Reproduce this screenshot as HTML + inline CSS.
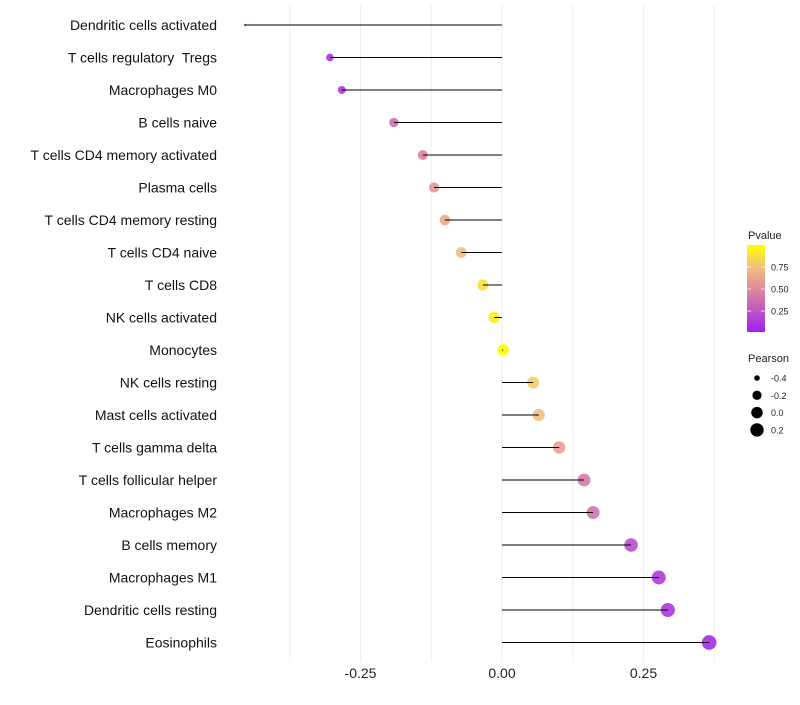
<!DOCTYPE html>
<html><head><meta charset="utf-8"><style>
body{margin:0;background:#fff;font-family:"Liberation Sans",Arial,sans-serif;}
text{white-space:pre;}
</style></head><body>
<svg id="chart" width="800" height="700" xmlns="http://www.w3.org/2000/svg"></svg>
<script>
const categories=["Dendritic cells activated","T cells regulatory  Tregs","Macrophages M0","B cells naive","T cells CD4 memory activated","Plasma cells","T cells CD4 memory resting","T cells CD4 naive","T cells CD8","NK cells activated","Monocytes","NK cells resting","Mast cells activated","T cells gamma delta","T cells follicular helper","Macrophages M2","B cells memory","Macrophages M1","Dendritic cells resting","Eosinophils"];
const pearson=[-0.454,-0.304,-0.283,-0.191,-0.140,-0.120,-0.101,-0.072,-0.034,-0.014,0.002,0.055,0.065,0.101,0.145,0.161,0.228,0.277,0.293,0.366];
const pvalues=[0.02,0.1,0.12,0.35,0.45,0.55,0.65,0.75,0.88,0.93,0.99,0.8,0.75,0.6,0.42,0.4,0.2,0.12,0.1,0.05];
const xTicks=[-0.25,0,0.25];
const xTickLabels=["-0.25","0.00","0.25"];
const gridVals=[-0.375,-0.25,-0.125,0,0.125,0.25,0.375];
const legendP=[0.25,0.5,0.75];
const legendPLabels=["0.25","0.50","0.75"];
const legendS=[-0.4,-0.2,0,0.2];
const legendSLabels=["-0.4","-0.2","0.0","0.2"];

const NS="http://www.w3.org/2000/svg";
const svg=document.getElementById('chart');
const x=v=>502+v*566;
const y=i=>25+i*32.5;
const vmin=Math.min(...pearson),vmax=Math.max(...pearson);
const rad=v=>{const t=Math.max(0,(v-vmin)/(vmax-vmin));return (1+5*Math.sqrt(t))*1.22;};
function lerp(a,b,t){return a.map((c,i)=>Math.round(c+(b[i]-c)*t));}
const stops=[[0,[160,32,240]],[0.5,[224,140,152]],[0.75,[240,192,128]],[1,[255,255,0]]];
function col(p){for(let i=0;i<stops.length-1;i++){if(p<=stops[i+1][0]){const t=(p-stops[i][0])/(stops[i+1][0]-stops[i][0]);return 'rgb('+lerp(stops[i][1],stops[i+1][1],t).join(',')+')';}}return 'rgb(255,255,0)';}
function mk(tag,attrs,parent){const e=document.createElementNS(NS,tag);for(const k in attrs)e.setAttribute(k,attrs[k]);(parent||svg).appendChild(e);return e;}

gridVals.forEach(v=>{
  const g=mk('line',{x1:x(v),x2:x(v),y1:5,y2:662,stroke:'#efefef','stroke-width':1});
  
  
});
xTicks.forEach((v,i)=>{
  const t=mk('text',{x:x(v),y:678,'text-anchor':'middle','font-size':14,fill:'#222'});
  t.textContent=xTickLabels[i];
  
  
});
categories.forEach((c,i)=>{
  const t=mk('text',{x:217,y:y(i)+5,'text-anchor':'end','font-size':14,fill:'#111'});
  t.textContent=c;
  
  
  const d=mk('circle',{cx:x(pearson[i]),cy:y(i),r:rad(pearson[i]),fill:col(pvalues[i]),'fill-opacity':0.9});
  
  
  const l=mk('line',{x1:x(0),x2:x(pearson[i]),y1:y(i),y2:y(i),stroke:'#000','stroke-width':1});
  
  
});
const lt=mk('text',{x:748,y:239,'font-size':11,fill:'#222'});lt.textContent='Pvalue';


const defs=mk('defs',{});
const grad=mk('linearGradient',{id:'pg',x1:0,y1:1,x2:0,y2:0},defs);
for(let k=0;k<=10;k++){mk('stop',{offset:k/10,'stop-color':col(k/10)},grad);}
const bar=mk('rect',{x:747,y:245,width:18,height:87,fill:'url(#pg)'});


const py=p=>333-p*88;
legendP.forEach((p,i)=>{
  mk('line',{x1:747,x2:751,y1:py(p),y2:py(p),stroke:'#fff','stroke-width':0.8});
  mk('line',{x1:761,x2:765,y1:py(p),y2:py(p),stroke:'#fff','stroke-width':0.8});
  const t=mk('text',{x:771,y:py(p)+3.5,'font-size':9,fill:'#222'});t.textContent=legendPLabels[i];
  
  
});
const st=mk('text',{x:748,y:362,'font-size':11,fill:'#222'});st.textContent='Pearson';


legendS.forEach((v,i)=>{
  const cy=378+i*17.3;
  const c=mk('circle',{cx:757,cy:cy,r:rad(v),fill:'#000'});
  
  
  const t=mk('text',{x:771,y:cy+3.5,'font-size':9,fill:'#222'});t.textContent=legendSLabels[i];
  
  
});
</script>
</body></html>
